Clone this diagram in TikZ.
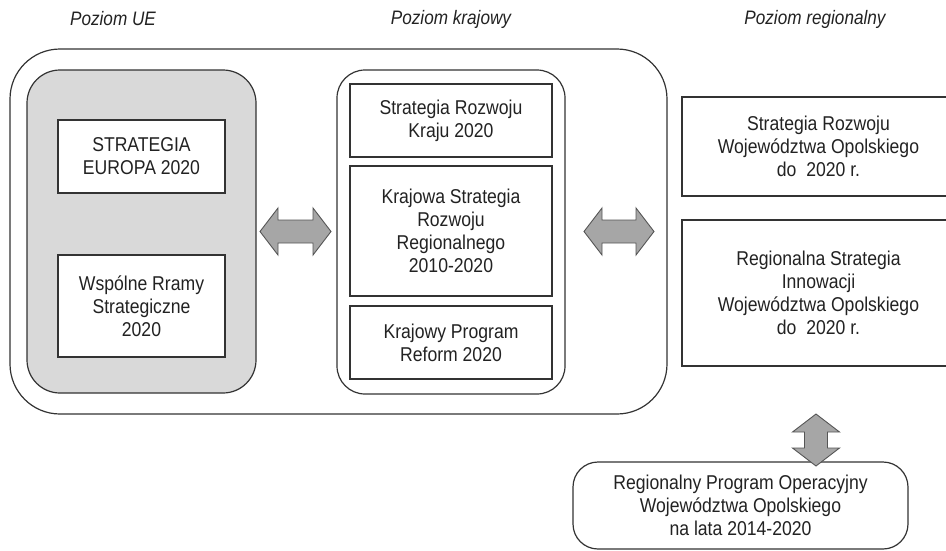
\documentclass[tikz,border=0pt]{standalone}
\usepackage{fontspec}
\setmainfont{Liberation Sans}[FakeStretch=0.88]
\definecolor{linecol}{HTML}{333333}
\definecolor{grayfill}{HTML}{D9D9D9}
\definecolor{arrfill}{HTML}{A6A6A6}
\definecolor{arrline}{HTML}{555555}
\definecolor{txtcol}{HTML}{222222}
\begin{document}
\begin{tikzpicture}[x=1pt,y=-1pt,
  every node/.style={text=txtcol, font=\fontsize{20}{23}\selectfont},
  frame/.style={draw=linecol, line width=1.2pt, inner sep=0pt, align=center},
  bigframe/.style={frame, rounded corners=50pt},
  grayframe/.style={frame, fill=grayfill, rounded corners=33pt},
  midframe/.style={frame, rounded corners=28pt},
  txtbox/.style={frame, fill=white},
  head/.style={font=\itshape\fontsize{19.5}{22}\selectfont},
  blockarrow/.style={draw=arrline, fill=arrfill, line width=0.9pt, line join=miter}
]
\useasboundingbox (0,0) rectangle (946,550);
% headers
\node[head] (hUE) at (113,19) {Poziom UE};
\node[head] (hKR) at (451,19) {Poziom krajowy};
\node[head] (hRG) at (815,19) {Poziom regionalny};
% containers
\node[bigframe, minimum width=657pt, minimum height=365pt] (outer) at (338.5,231.5) {};
\node[grayframe, minimum width=229pt, minimum height=323pt] (eu) at (141.5,231.5) {};
\node[midframe, minimum width=228pt, minimum height=324pt] (kr) at (451,232) {};
% EU boxes
\node[txtbox, minimum width=167pt, minimum height=73pt] (eu1) at (141.5,156.5) {STRATEGIA\\EUROPA 2020};
\node[txtbox, minimum width=167pt, minimum height=102pt] (eu2) at (141.5,306) {Wspólne Rramy\\Strategiczne\\2020};
% national boxes
\node[txtbox, minimum width=202pt, minimum height=73pt] (k1) at (451,120.5) {Strategia Rozwoju\\Kraju 2020};
\node[txtbox, minimum width=202pt, minimum height=130pt] (k2) at (451,231) {Krajowa Strategia\\Rozwoju\\Regionalnego\\2010-2020};
\node[txtbox, minimum width=202pt, minimum height=73pt] (k3) at (451,342.5) {Krajowy Program\\Reform 2020};
% regional boxes
\node[txtbox, minimum width=273pt, minimum height=99pt] (r1) at (818.5,146.5) {Strategia Rozwoju\\Województwa Opolskiego\\do\ \ 2020 r.};
\node[txtbox, minimum width=273pt, minimum height=146pt] (r2) at (818.5,293) {Regionalna Strategia\\Innowacji\\Województwa Opolskiego\\do\ \ 2020 r.};
\node[frame, rounded corners=25pt, fill=white, minimum width=335pt, minimum height=87pt] (rpo) at (740.5,505.5) {Regionalny Program Operacyjny\\Województwa Opolskiego\\na lata 2014-2020};
% block arrows
\coordinate (a1) at (295.5,231.5);
\coordinate (a2) at (619,231.5);
\coordinate (a3) at (816,440);
\draw[blockarrow] (a1) ++(-35.5,0) -- ++(18,-23.5) -- ++(0,12) -- ++(35,0) -- ++(0,-12) -- ++(18,23.5) -- ++(-18,23.5) -- ++(0,-12) -- ++(-35,0) -- ++(0,12) -- cycle;
\draw[blockarrow] (a2) ++(-35,0) -- ++(18,-23.5) -- ++(0,12) -- ++(34,0) -- ++(0,-12) -- ++(18,23.5) -- ++(-18,23.5) -- ++(0,-12) -- ++(-34,0) -- ++(0,12) -- cycle;
\draw[blockarrow] (a3) ++(0,-26) -- ++(23.5,18) -- ++(-12,0) -- ++(0,16) -- ++(12,0) -- ++(-23.5,18) -- ++(-23.5,-18) -- ++(12,0) -- ++(0,-16) -- ++(-12,0) -- cycle;
\end{tikzpicture}
\end{document}
